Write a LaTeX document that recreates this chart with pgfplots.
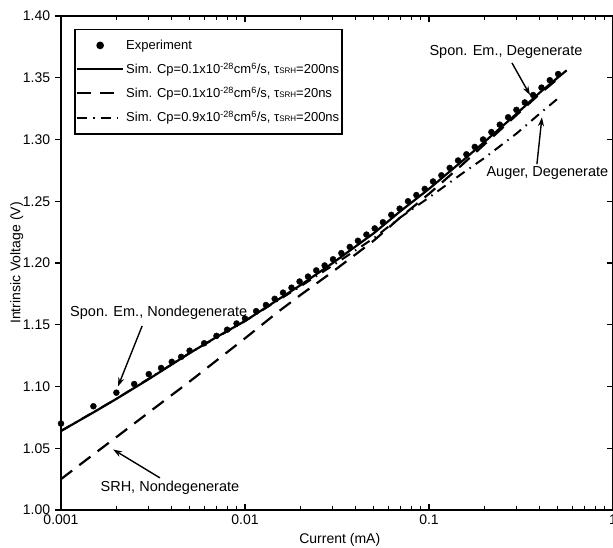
\documentclass[border=0pt]{standalone}
\usepackage{fontspec}
\setmainfont{Liberation Sans}
\usepackage{pgfplots}
\pgfplotsset{compat=1.18}
\usetikzlibrary{arrows.meta}

\tikzset{
  note/.style={font=\fontsize{14.5}{16}\selectfont},
  arr/.style={line width=1.4pt, -{Stealth[length=9pt,width=6pt]}},
}

\begin{document}
\fontsize{14}{16}\selectfont
\begin{tikzpicture}
\begin{axis}[
  name=ax,
  width=552pt, height=494pt, scale only axis,
  xmode=log, xmin=0.001, xmax=1, ymin=1.0, ymax=1.4,
  ytick={1.00,1.05,1.10,1.15,1.20,1.25,1.30,1.35,1.40},
  axis line style={line width=1.6pt},
  tick style={black, line width=1.3pt},
  major tick length=6pt, minor tick length=4pt,
  xtick={0.001,0.01,0.1,1}, xticklabels={0.001,0.01,0.1,1},
  minor xtick={0.002,0.003,0.004,0.005,0.006,0.007,0.008,0.009,
               0.02,0.03,0.04,0.05,0.06,0.07,0.08,0.09,
               0.2,0.3,0.4,0.5,0.6,0.7,0.8,0.9},
  xtick pos=both, xtick align=inside,
  ytick pos=left, ytick align=outside,
  yticklabel style={/pgf/number format/fixed, /pgf/number format/fixed zerofill,
    /pgf/number format/precision=2, /pgf/number format/assume math mode=true},
  ticklabel style={font=\fontsize{14}{16}\selectfont},
  xlabel={Current (mA)}, ylabel={Intrinsic Voltage (V)},
  xlabel style={at={(axis description cs:0.505,-0.06)}, anchor=center},
  ylabel style={at={(axis description cs:-0.08,0.5)}, anchor=center},
  legend style={at={(axis description cs:0.024,0.974)}, anchor=north west,
    draw=black, line width=1.6pt, font=\fontsize{13}{15}\selectfont,
    row sep=7.5pt, inner xsep=1pt, inner ysep=8pt},
  legend cell align=left,
  legend image code/.code={\draw[mark repeat=2, mark phase=2, #1]
    plot coordinates {(0pt,0pt) (23pt,0pt) (46pt,0pt)};},
]
\addplot[only marks, mark=*, mark size=3pt, black] coordinates {
  (0.001,1.070) (0.0015,1.084) (0.002,1.095) (0.0025,1.102) (0.003,1.110)
  (0.0035,1.115) (0.004,1.120) (0.0045,1.124) (0.005,1.129) (0.006,1.135)
  (0.007,1.141) (0.008,1.146) (0.009,1.151) (0.010,1.155) (0.0115,1.161)
  (0.013,1.166) (0.0145,1.171) (0.0161,1.176) (0.0179,1.180) (0.0198,1.185)
  (0.0220,1.189) (0.0244,1.194) (0.0271,1.198) (0.0301,1.203) (0.0334,1.208)
  (0.0371,1.213) (0.0411,1.218) (0.0457,1.223) (0.0507,1.228) (0.0562,1.233)
  (0.0624,1.239) (0.0693,1.244) (0.0769,1.250) (0.0854,1.255) (0.0948,1.260)
  (0.1052,1.266) (0.1168,1.271) (0.1296,1.277) (0.1439,1.283) (0.1597,1.288)
  (0.1773,1.294) (0.1968,1.300) (0.2184,1.306) (0.2425,1.312) (0.2691,1.318)
  (0.2987,1.324) (0.3316,1.330) (0.3681,1.336) (0.4086,1.342) (0.4535,1.348)
  (0.5034,1.353)
};
\addlegendentry{Experiment}
\addplot[black, line width=2.2pt] coordinates {
  (0.001,1.064) (0.0015,1.079) (0.002,1.090) (0.003,1.106) (0.005,1.127)
  (0.007,1.140) (0.01,1.153) (0.015,1.170) (0.02,1.182) (0.03,1.200)
  (0.05,1.224) (0.07,1.242) (0.1,1.260) (0.15,1.282) (0.2,1.298)
  (0.3,1.321) (0.4,1.338) (0.5,1.350) (0.56,1.356)
};
\addlegendentry{Sim. Cp=0.1x10\textsuperscript{-28}cm\textsuperscript{6}/s, τ{\footnotesize SRH}=200ns}
\addplot[black, line width=2.2pt, dash pattern=on 14pt off 9pt] coordinates {
  (0.001,1.025) (0.0015,1.045) (0.002,1.059) (0.003,1.079) (0.005,1.104)
  (0.007,1.121) (0.01,1.139) (0.015,1.160) (0.02,1.174) (0.03,1.193)
  (0.05,1.218) (0.07,1.237) (0.1,1.256) (0.15,1.279) (0.2,1.296)
  (0.3,1.320) (0.4,1.337) (0.5,1.349)
};
\addlegendentry{Sim. Cp=0.1x10\textsuperscript{-28}cm\textsuperscript{6}/s, τ{\footnotesize SRH}=20ns}
\addplot[black, line width=2pt, dash pattern=on 10pt off 6pt on 1.5pt off 6pt] coordinates {
  (0.001,1.064) (0.002,1.090) (0.005,1.127) (0.01,1.153) (0.02,1.181)
  (0.03,1.198) (0.05,1.220) (0.07,1.237) (0.1,1.253) (0.15,1.272)
  (0.2,1.285) (0.3,1.305) (0.4,1.321) (0.5,1.333)
};
\addlegendentry{Sim. Cp=0.9x10\textsuperscript{-28}cm\textsuperscript{6}/s, τ{\footnotesize SRH}=200ns}

\node[note] at (axis cs:0.00340,1.160) {Spon. Em., Nondegenerate};
\draw[arr] (axis cs:0.00276,1.149) -- (axis cs:0.00204,1.100);
\node[note] at (axis cs:0.00391,1.018) {SRH, Nondegenerate};
\draw[arr] (axis cs:0.00345,1.026) -- (axis cs:0.00192,1.049);
\node[note] at (axis cs:0.262,1.371) {Spon. Em., Degenerate};
\draw[arr] (axis cs:0.2825,1.362) -- (axis cs:0.354,1.336);
\node[note] at (axis cs:0.440,1.273) {Auger, Degenerate};
\draw[arr] (axis cs:0.386,1.280) -- (axis cs:0.411,1.318);
\end{axis}
\begin{axis}[
  width=552pt, height=494pt, scale only axis,
  xmode=log, xmin=0.001, xmax=1, ymin=1.0, ymax=1.4,
  ytick={1.00,1.05,1.10,1.15,1.20,1.25,1.30,1.35,1.40},
  axis line style={line width=1.6pt},
  tick style={black, line width=1.3pt},
  major tick length=6pt,
  hide x axis, axis y line*=right,
  ytick pos=right, ytick align=inside, yticklabels={},
]
\addplot[draw=none] coordinates {(0.01,1.2)};
\end{axis}
\pgfresetboundingbox
\path[use as bounding box] ([xshift=-61pt,yshift=-38pt]ax.south west)
  rectangle ([yshift=16pt]ax.north east);
\end{tikzpicture}
\end{document}
